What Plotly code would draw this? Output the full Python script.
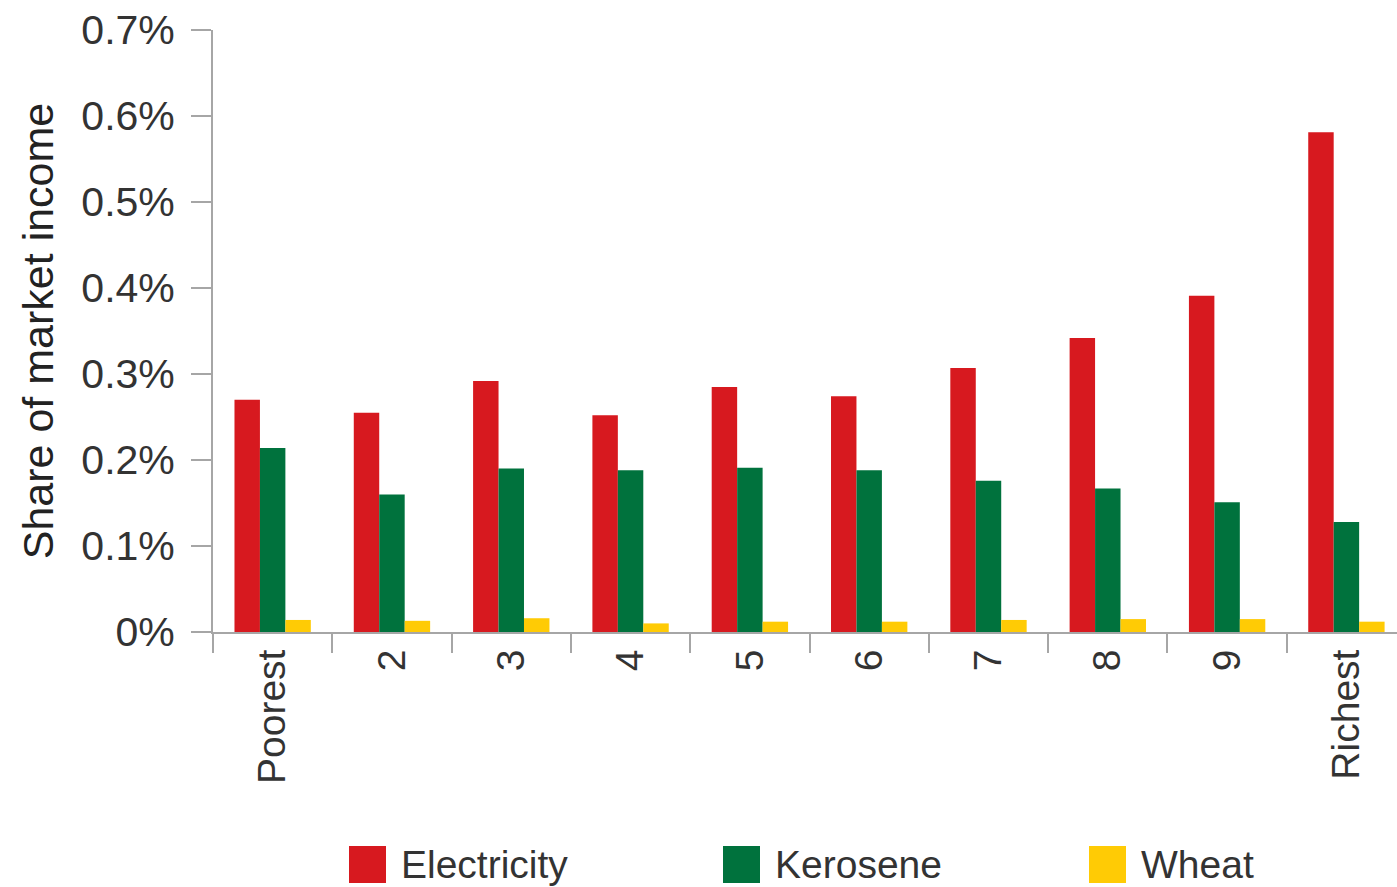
import plotly.graph_objects as go

# Income deciles and subsidy benefit as share of market income (%)
deciles = ["Poorest", "2", "3", "4", "5", "6", "7", "8", "9", "Richest"]
electricity = [0.270, 0.255, 0.292, 0.252, 0.285, 0.274, 0.307, 0.342, 0.391, 0.581]
kerosene = [0.214, 0.160, 0.190, 0.188, 0.191, 0.188, 0.176, 0.167, 0.151, 0.128]
wheat = [0.014, 0.013, 0.016, 0.010, 0.012, 0.012, 0.014, 0.015, 0.015, 0.012]

y_tick_vals = [0, 0.1, 0.2, 0.3, 0.4, 0.5, 0.6, 0.7]
y_tick_text = ["0%", "0.1%", "0.2%", "0.3%", "0.4%", "0.5%", "0.6%", "0.7%"]

series = [
    ("Electricity", electricity, "#D7191F"),
    ("Kerosene", kerosene, "#00723D"),
    ("Wheat", wheat, "#FFCB05"),
]

FONT = "Liberation Sans Narrow, Arial Narrow, Liberation Sans, sans-serif"
TEXT = "#333333"
AXIS = "#A6A6A6"

W, H = 1397, 887
ML, MR, MT, MB = 213, 0, 30, 255
PW, PH = W - ML - MR, H - MT - MB

fig = go.Figure()
for name, vals, color in series:
    fig.add_trace(go.Bar(
        x=deciles, y=vals, name=name, marker_color=color,
        marker_line_width=0, showlegend=False,
    ))


def px_x(px):
    return (px - ML) / PW


def px_y(py):
    return (H - MB - py) / PH


# Legend drawn with large square swatches
legend_items = [("Electricity", "#D7191F", 349), ("Kerosene", "#00723D", 723), ("Wheat", "#FFCB05", 1089)]
shapes = []
annotations = []
for name, color, left in legend_items:
    shapes.append(dict(
        type="rect", xref="paper", yref="paper",
        x0=px_x(left), x1=px_x(left + 37), y0=px_y(846), y1=px_y(883),
        fillcolor=color, line=dict(width=0),
    ))
    annotations.append(dict(
        text=name, xref="paper", yref="paper", x=px_x(left + 50), y=px_y(864),
        xanchor="left", yanchor="middle", showarrow=False,
        font=dict(family=FONT, size=39, color=TEXT),
    ))

fig.update_layout(
    width=W, height=H,
    margin=dict(l=ML, r=MR, t=MT, b=MB, pad=0),
    paper_bgcolor="white", plot_bgcolor="white",
    barmode="group", bargap=0.36, bargroupgap=0,
    font=dict(family=FONT, size=40, color=TEXT),
    shapes=shapes, annotations=annotations,
    xaxis=dict(
        range=[-0.5, 9.424],
        showline=True, linecolor=AXIS, linewidth=2,
        ticks="outside", ticklen=19, tickwidth=2, tickcolor=AXIS,
        tickson="boundaries", tickangle=-90,
        showgrid=False, zeroline=False,
        tickfont=dict(family=FONT, size=39, color=TEXT),
    ),
    yaxis=dict(
        range=[0, 0.7],
        tickvals=y_tick_vals, ticktext=y_tick_text,
        showline=True, linecolor=AXIS, linewidth=2,
        ticks="outside", ticklen=20, tickwidth=2, tickcolor=AXIS,
        ticklabelstandoff=8,
        showgrid=False, zeroline=False,
        tickfont=dict(family=FONT, size=41, color=TEXT),
        title=dict(text="Share of market income", standoff=14,
                   font=dict(family=FONT, size=43, color="#222222")),
    ),
)

fig.write_html("out.html")
